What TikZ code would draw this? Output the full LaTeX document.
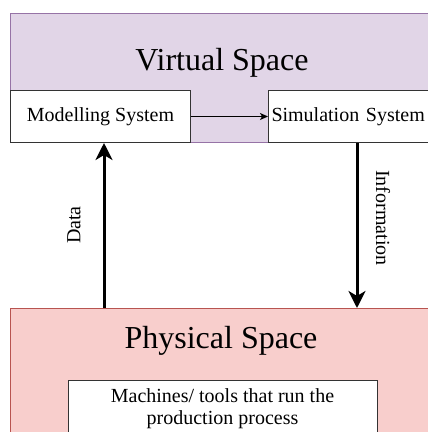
\documentclass[tikz,border=0pt]{standalone}
\usepackage{fontspec}
\setmainfont{Liberation Serif}
\usetikzlibrary{arrows.meta,calc}
\definecolor{vfill}{HTML}{E1D5E7}
\definecolor{vline}{HTML}{9673A6}
\definecolor{pfill}{HTML}{F8CECC}
\definecolor{pline}{HTML}{B85450}
\tikzset{
  space/.style={draw, line width=1pt, anchor=north west, inner sep=0pt},
  wbox/.style={draw=black!80, fill=white, line width=1pt, anchor=north west, inner sep=0pt},
  title/.style={font=\fontsize{32}{36}\selectfont},
  small/.style={font=\fontsize{20}{22}\selectfont},
  bigarrow/.style={line width=3pt, -{Stealth[length=17pt,width=17pt,inset=5pt]}},
  thinarrow/.style={line width=1pt, -{Stealth[length=8pt,width=7pt,inset=2pt]}},
}
\begin{document}
\begin{tikzpicture}[x=1pt,y=-1pt]
\useasboundingbox (0,0) rectangle (428,432);
\clip (0,0) rectangle (428,432);
% spaces
\node[space, fill=vfill, draw=vline, minimum width=450pt, minimum height=129pt] (virt) at (10,13) {};
\node[title] (vtitle) at (222,63) {Virtual Space};
\node[space, fill=pfill, draw=pline, minimum width=450pt, minimum height=160pt] (phys) at (10,308) {};
\node[title] (ptitle) at (221,341) {Physical Space};
% boxes
\node[wbox, minimum width=180pt, minimum height=52pt, small] (model) at (10,90) {Modelling System};
\node[wbox, minimum width=180pt, minimum height=52pt, small, text width=174pt, align=left, inner xsep=3pt] (sim) at (268,90) {Simulation System};
\node[wbox, minimum width=309pt, minimum height=80pt] (mach) at (68,380) {};
\node[small, align=center] (machtext) at (222.5,409) {Machines/ tools that run the\\production process};
% arrows
\draw[thinarrow] (model.east) -- (sim.west);
\coordinate (dbase) at (104,308);
\coordinate (ibase) at (357,308);
\draw[bigarrow] (dbase) -- (dbase |- model.south);
\draw[bigarrow] (ibase |- sim.south) -- (ibase);
\node[small, rotate=90] (datal) at (74,225) {Data};
\node[small, rotate=-90] (infol) at (383,218) {Information};
\end{tikzpicture}
\end{document}
